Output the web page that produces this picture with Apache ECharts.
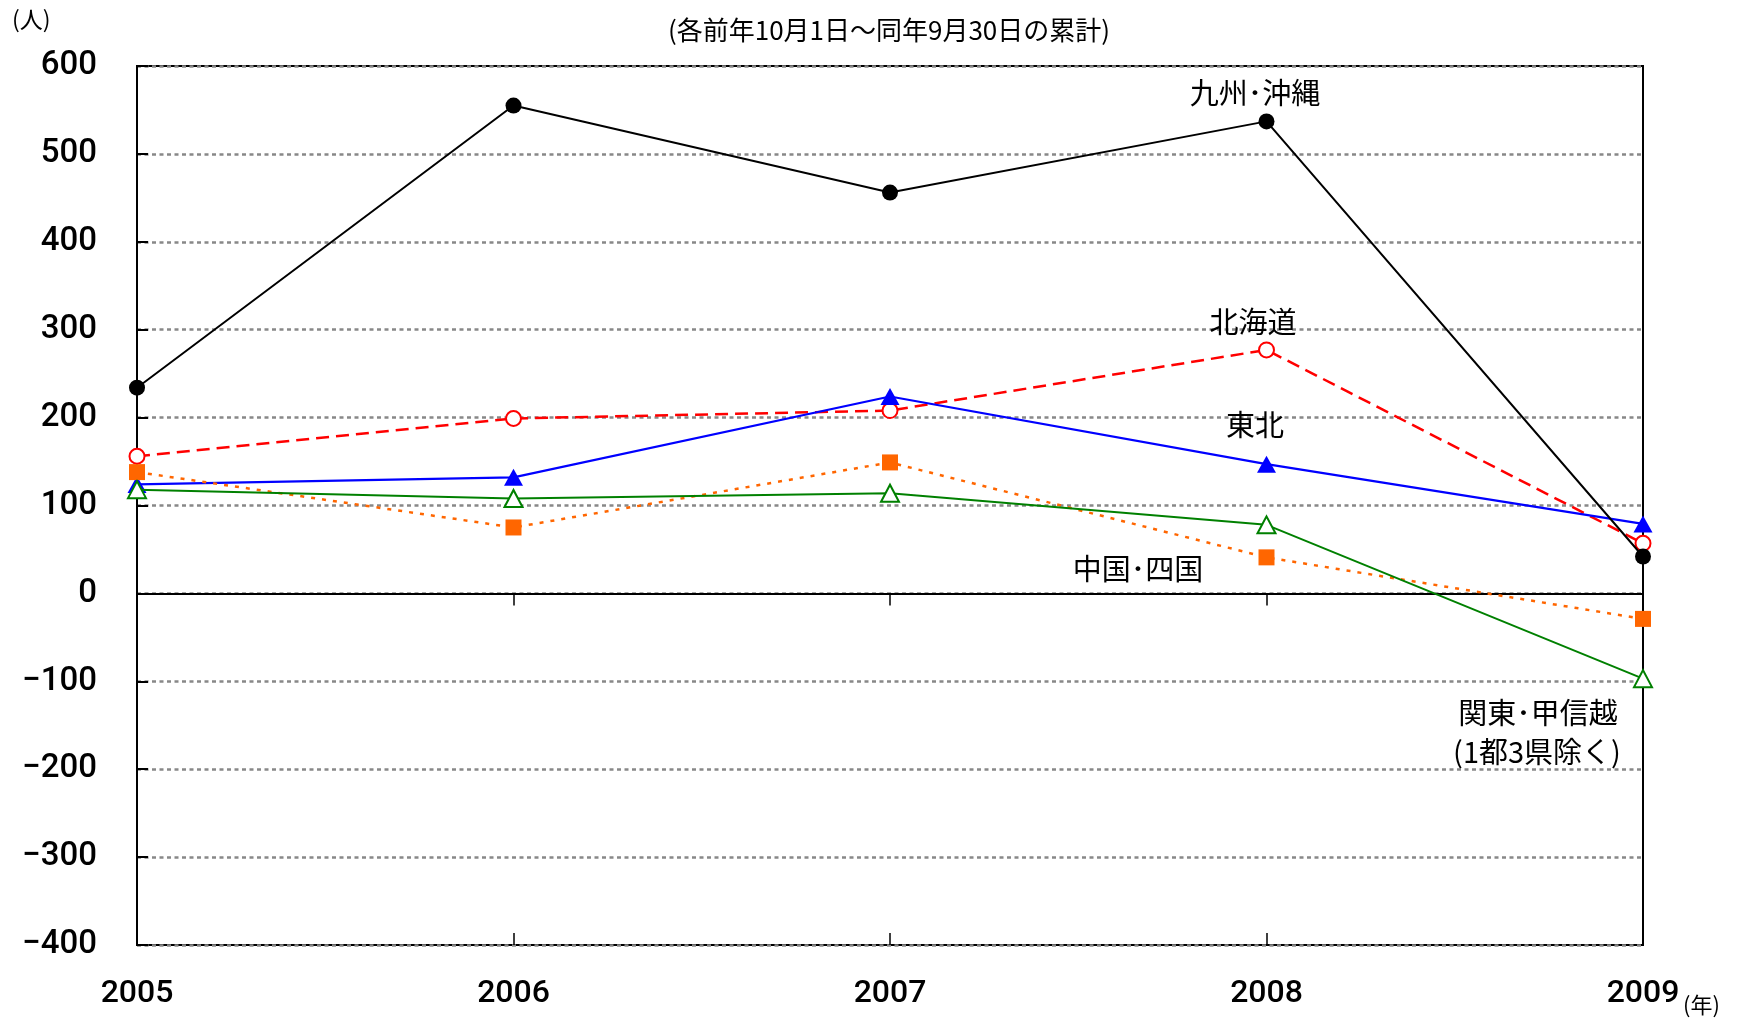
<!DOCTYPE html>
<html>
<head>
<meta charset="utf-8">
<script src="https://cdn.jsdelivr.net/npm/echarts@6/dist/echarts.min.js"></script>
<style>
  html, body { margin: 0; padding: 0; background: #ffffff; }
  #chart { width: 1742px; height: 1018px; }
</style>
</head>
<body>
<div id="chart"></div>
<script>
// Years on the horizontal axis
const years = ['2005', '2006', '2007', '2008', '2009'];

// Net inflow per region (persons), Oct 1 of previous year to Sep 30
const kyushuOkinawa = [234, 555, 456, 537, 42];
const hokkaido = [156, 199, 208, 277, 57];
const tohoku = [124, 132, 224, 147, 79];
const chugokuShikoku = [138, 75, 149, 41, -29];
const kantoKoshinetsu = [118, 108, 114, 78, -97];

// Vertical axis range
const yMin = -400;
const yMax = 600;
const yStep = 100;

const NUM_FONT = 'Roboto, "Liberation Sans", sans-serif';
const JP_FONT = '"Noto Sans CJK JP", sans-serif';

const chart = echarts.init(document.getElementById('chart'), null, { renderer: 'canvas' });

const gridLine = { color: '#888888', width: 2.5, type: [4, 3.5] };

function labelText(text, x, y, size, align) {
  return {
    type: 'text',
    x: x, y: y,
    style: {
      text: text,
      fill: '#000',
      font: 'normal ' + size + 'px ' + JP_FONT,
      textAlign: align || 'center',
      textVerticalAlign: 'middle'
    },
    z: 100
  };
}

const option = {
  backgroundColor: '#ffffff',
  animation: false,
  grid: {
    left: 137, right: 99, top: 66, bottom: 73,
    show: true,
    borderColor: '#000',
    borderWidth: 2,
    backgroundColor: 'transparent'
  },
  xAxis: [
    {
      // year labels along the bottom edge
      type: 'category',
      data: years,
      boundaryGap: false,
      position: 'bottom',
      axisLine: { show: false, onZero: false },
      axisTick: { show: false },
      axisLabel: { fontFamily: NUM_FONT, fontWeight: 500, fontSize: 32, color: '#000', margin: 33 },
      splitLine: { show: false }
    },
    {
      // zero line with ticks pointing down
      type: 'category',
      data: years,
      boundaryGap: false,
      position: 'bottom',
      axisLine: { show: true, onZero: true, lineStyle: { color: '#000', width: 2 } },
      axisTick: { show: true, inside: false, length: 12, lineStyle: { color: '#000', width: 1.5 } },
      axisLabel: { show: false },
      splitLine: { show: false }
    },
    {
      // zero line ticks pointing up
      type: 'category',
      data: years,
      boundaryGap: false,
      position: 'bottom',
      axisLine: { show: false, onZero: true },
      axisTick: { show: true, inside: true, length: 12, lineStyle: { color: '#000', width: 1.5 } },
      axisLabel: { show: false },
      splitLine: { show: false }
    }
  ],
  yAxis: {
    type: 'value',
    min: yMin,
    max: yMax,
    interval: yStep,
    axisLine: { show: true, lineStyle: { color: '#000', width: 2 } },
    axisTick: { show: true, inside: true, length: 11, lineStyle: { color: '#000', width: 2 } },
    axisLabel: {
      fontFamily: NUM_FONT, fontWeight: 500, fontSize: 33, color: '#000', margin: 40,
      formatter: function (v) { return v < 0 ? '\u2212' + Math.abs(v) : String(v); }
    },
    splitLine: { show: true, lineStyle: gridLine }
  },
  series: [
    {
      name: '北海道',
      type: 'line',
      data: hokkaido,
      symbol: 'emptyCircle',
      symbolSize: 15,
      lineStyle: { color: '#ff0000', width: 2.5, type: [13, 7] },
      itemStyle: { color: '#ff0000', borderWidth: 2 },
      z: 3
    },
    {
      name: '東北',
      type: 'line',
      data: tohoku,
      symbol: 'triangle',
      symbolSize: [19, 17],
      lineStyle: { color: '#0000ff', width: 2.2 },
      itemStyle: { color: '#0000ff' },
      z: 4
    },
    {
      name: '中国・四国',
      type: 'line',
      data: chugokuShikoku,
      symbol: 'rect',
      symbolSize: 16,
      lineStyle: { color: '#ff6600', width: 2.5, type: [4, 7] },
      itemStyle: { color: '#ff6600' },
      z: 5
    },
    {
      name: '関東・甲信越',
      type: 'line',
      data: kantoKoshinetsu,
      symbol: 'emptyTriangle',
      symbolSize: [18, 17],
      lineStyle: { color: '#008000', width: 2 },
      itemStyle: { color: '#008000', borderWidth: 2 },
      z: 6
    },
    {
      name: '九州・沖縄',
      type: 'line',
      data: kyushuOkinawa,
      symbol: 'circle',
      symbolSize: 16,
      lineStyle: { color: '#000000', width: 2 },
      itemStyle: { color: '#000000' },
      z: 7
    }
  ],
  graphic: [
    labelText('(各前年10月1日～同年9月30日の累計)', 889, 30, 26),
    labelText('(人)', 12, 19, 23, 'left'),
    labelText('(年)', 1683, 1005, 22, 'left'),
    labelText('九州･沖縄', 1255, 93, 29),
    labelText('北海道', 1253, 322, 29),
    labelText('東北', 1255, 425, 29),
    labelText('中国･四国', 1138, 569, 29),
    labelText('関東･甲信越', 1538, 713, 29),
    labelText('(1都3県除く)', 1537, 752, 29)
  ]
};

chart.setOption(option);
</script>
</body>
</html>
